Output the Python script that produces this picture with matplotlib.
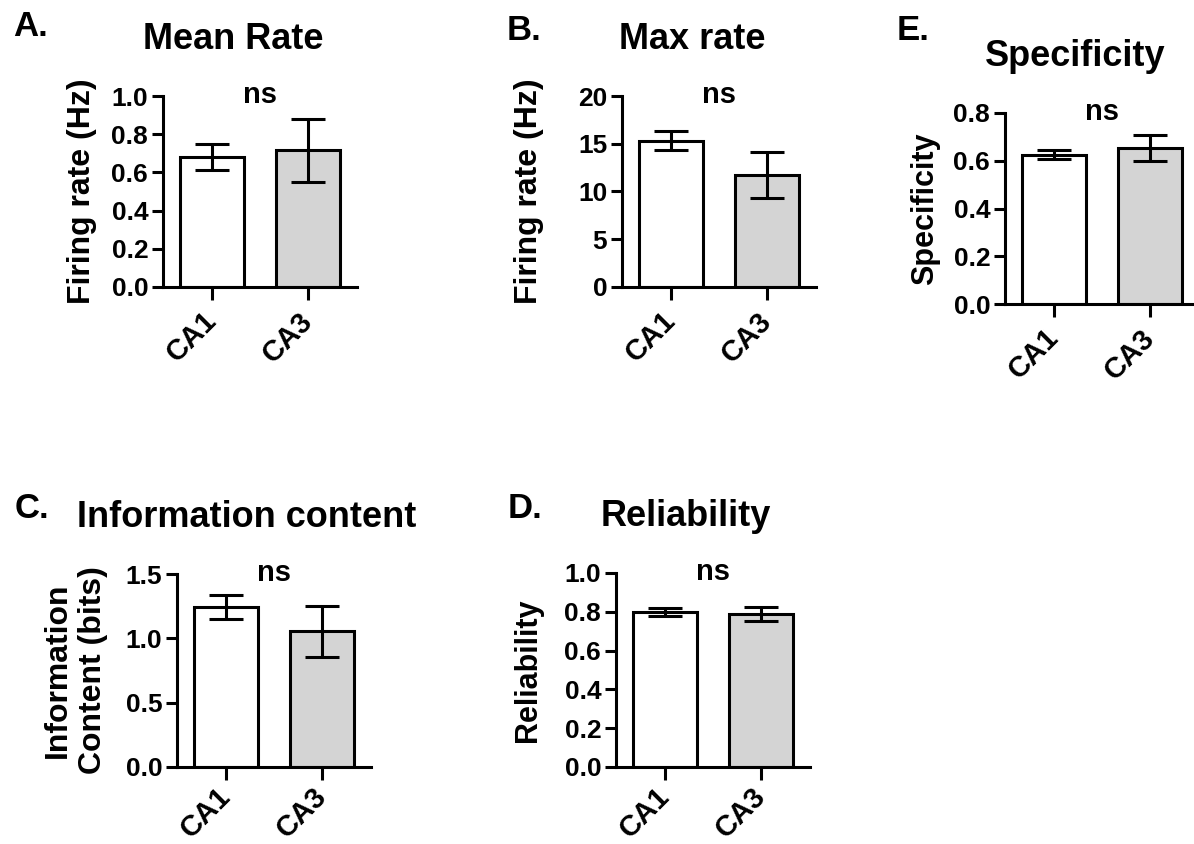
import matplotlib
matplotlib.use('Agg')
import matplotlib.pyplot as plt
from matplotlib.ticker import FormatStrFormatter

plt.rcParams['font.family'] = ['Liberation Sans', 'DejaVu Sans']
plt.rcParams['font.weight'] = 'bold'

groups = ['CA1', 'CA3']

mean_rate = [0.68, 0.715]
mean_rate_err = [0.07, 0.165]

max_rate = [15.3, 11.7]
max_rate_err = [1.0, 2.4]

info_content = [1.245, 1.055]
info_content_err = [0.093, 0.197]

reliability = [0.80, 0.79]
reliability_err = [0.02, 0.036]

specificity = [0.625, 0.653]
specificity_err = [0.018, 0.055]

W, H = 1194, 844
fig = plt.figure(figsize=(W / 100, H / 100), dpi=100)

LW = 2.2
bar_colors = ['white', '#d4d4d4']


def px_axes(left, top, width=194, height=191):
    return fig.add_axes([left / W, 1 - (top + height) / H, width / W, height / H])


def panel(ax, values, errs, title, ylabel, ymax, ystep, fmt, label_x, label_size=23, xpad=12):
    xs = list(range(len(groups)))
    ax.bar(xs, values, width=0.667, color=bar_colors, edgecolor='black', linewidth=LW, zorder=2)
    ax.errorbar(xs, values, yerr=errs, fmt='none', ecolor='black', elinewidth=LW,
                capsize=12, capthick=LW, zorder=3)
    ax.set_xlim(-0.51, 1.51)
    ax.set_ylim(0, ymax)
    ticks = [i * ystep for i in range(int(round(ymax / ystep)) + 1)]
    ax.set_yticks(ticks)
    ax.yaxis.set_major_formatter(FormatStrFormatter(fmt))
    ax.set_xticks(xs)
    ax.set_xticklabels(groups, rotation=45, ha='right', va='center',
                       rotation_mode='anchor', fontsize=21, fontweight='bold')
    for s in ['top', 'right']:
        ax.spines[s].set_visible(False)
    for s in ['left', 'bottom']:
        ax.spines[s].set_linewidth(LW)
    ax.tick_params(axis='y', length=7.7, width=LW, labelsize=19, pad=3)
    ax.tick_params(axis='x', length=9.4, width=LW, pad=xpad)
    for t in ax.get_yticklabels():
        t.set_fontweight('bold')
    ax.set_title(title, fontsize=26, fontweight='bold', x=0.36, pad=34, ha='center')
    ax.set_ylabel(ylabel, fontsize=label_size, fontweight='bold', linespacing=1.2)
    ax.yaxis.set_label_coords(label_x, 0.5)
    ax.annotate('ns', xy=(0.5, 1.0), xycoords='axes fraction', xytext=(0, -5),
                textcoords='offset points', ha='center', va='baseline',
                fontsize=21, fontweight='bold')


axA = px_axes(163, 96)
panel(axA, mean_rate, mean_rate_err, 'Mean Rate', 'Firing rate (Hz)', 1.0, 0.2, '%.1f', -0.34)

axB = px_axes(622, 96)
panel(axB, max_rate, max_rate_err, 'Max rate', 'Firing rate (Hz)', 20, 5, '%d', -0.40)

axE = px_axes(1005, 113)
panel(axE, specificity, specificity_err, 'Specificity', 'Specificity', 0.8, 0.2, '%.1f', -0.335,
      label_size=22)

axC = px_axes(177, 574, height=193)
panel(axC, info_content, info_content_err, 'Information content', 'Information\nContent (bits)',
      1.5, 0.5, '%.1f', -0.357, xpad=9)

axD = px_axes(616, 573, height=194)
panel(axD, reliability, reliability_err, 'Reliability', 'Reliability', 1.0, 0.2, '%.1f', -0.376,
      label_size=22, xpad=9)

for letter, x, y in [('A.', 13, 36), ('B.', 507, 40), ('E.', 897, 40), ('C.', 15, 518), ('D.', 508, 518)]:
    fig.text(x / W, 1 - y / H, letter, fontsize=25, fontweight='bold', ha='left', va='baseline')

fig.savefig('out.png', dpi=100)
